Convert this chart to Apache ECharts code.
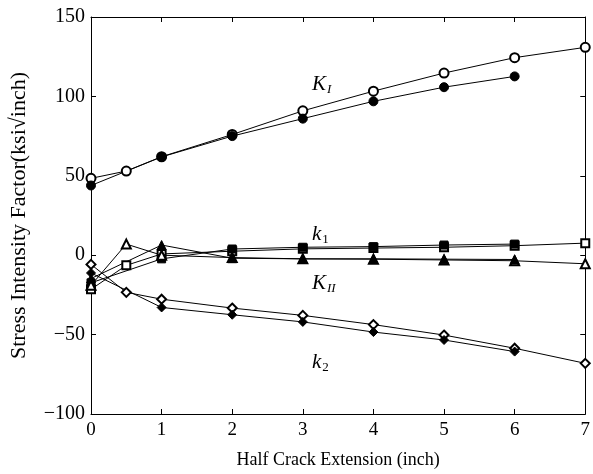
<!DOCTYPE html>
<html>
<head>
<meta charset="utf-8">
<script src="https://cdn.jsdelivr.net/npm/echarts@6/dist/echarts.min.js"></script>
<style>html,body{margin:0;padding:0;background:#fff}#main{width:593px;height:474px}</style>
</head>
<body>
<div id="main"></div>
<script>
var xTicks = [0, 1, 2, 3, 4, 5, 6, 7];
var yTicks = [-100, -50, 0, 50, 100, 150];

// [x, value] pairs
var KI_open = [[0, 48.4], [0.5, 53], [1, 62], [2, 76], [3, 90.9], [4, 103.3], [5, 114.7], [6, 124.4], [7, 130.9]];
var KI_fill = [[0, 43.9], [1, 61.9], [2, 75], [3, 86], [4, 96.9], [5, 105.8], [6, 112.6]];
var k1_open = [[0, -21.5], [0.5, -6.4], [1, 0.8], [2, 2.5], [3, 4], [4, 4.5], [5, 5], [6, 6], [7, 7.6]];
var k1_fill = [[0, -17.4], [1, -2.3], [2, 3.9], [3, 5], [4, 5.4], [5, 6.4], [6, 7]];
var KII_open = [[0, -19], [0.5, 7], [1, 0], [2, -1.5], [3, -2.3], [4, -2.5], [5, -3], [6, -3.5], [7, -5.4]];
var KII_fill = [[0, -14.7], [1, 6.4], [2, -1.9], [3, -2.3], [4, -2.3], [5, -2.5], [6, -2.7]];
var k2_open = [[0, -5.8], [0.5, -23.4], [1, -27.7], [2, -33.3], [3, -37.9], [4, -43.7], [5, -50.3], [6, -58.6], [7, -68.1]];
var k2_fill = [[0, -11.2], [1, -32.9], [2, -37.5], [3, -42], [4, -48.4], [5, -53.4], [6, -60.7]];

var font = 'Liberation Serif';

function mk(name, data, symbol, size) {
    return {
        name: name,
        type: 'line',
        data: data,
        symbol: symbol,
        symbolSize: size || 8,
        showAllSymbol: true,
        color: '#000',
        lineStyle: {color: '#000', width: 1},
        itemStyle: {color: '#000', borderColor: '#000', borderWidth: 1},
        animation: false
    };
}

var axisBase = {
    type: 'value',
    axisLine: {show: true, onZero: false, lineStyle: {color: '#000', width: 1}},
    axisTick: {show: true, inside: true, length: 5, lineStyle: {color: '#000'}},
    splitLine: {show: false}
};

var myChart = echarts.init(document.getElementById('main'));
var option = {
    backgroundColor: '#fff',
    grid: {left: 89, right: 5, top: 17, bottom: 55},
    xAxis: [
        Object.assign({}, axisBase, {
            min: 0, max: 7, interval: 1,
            name: 'Half Crack Extension (inch)',
            nameLocation: 'middle', nameGap: 37,
            nameTextStyle: {fontFamily: font, fontSize: 18, color: '#000'},
            axisLabel: {fontFamily: font, fontSize: 19, color: '#000', margin: 7}
        }),
        Object.assign({}, axisBase, {
            position: 'top', min: 0, max: 7, interval: 1,
            axisLabel: {show: false}
        })
    ],
    yAxis: [
        Object.assign({}, axisBase, {
            min: -100, max: 150, interval: 50,
            name: 'Stress Intensity Factor(ksi\u221Ainch)',
            nameLocation: 'middle', nameGap: 61,
            nameTextStyle: {fontFamily: font, fontSize: 22, color: '#000'},
            axisLabel: {fontFamily: font, fontSize: 20, color: '#000', margin: 6,
                formatter: function (v) { return v < 0 ? '\u2212' + (-v) : String(v); }}
        }),
        Object.assign({}, axisBase, {
            position: 'right', min: -100, max: 150, interval: 50,
            axisLabel: {show: false}
        })
    ],
    graphic: [
        {type: 'text', left: 312, top: 74, style: {
            text: '{a|K}{b|I}', rich: {
                a: {fontFamily: font, fontStyle: 'italic', fontSize: 21, fill: '#000'},
                b: {fontFamily: font, fontStyle: 'italic', fontSize: 13, fill: '#000', padding: [10, 0, 0, 1]}
            }}},
        {type: 'text', left: 312, top: 224, style: {
            text: '{a|k}{b|1}', rich: {
                a: {fontFamily: font, fontStyle: 'italic', fontSize: 21, fill: '#000'},
                b: {fontFamily: font, fontSize: 13, fill: '#000', padding: [10, 0, 0, 1]}
            }}},
        {type: 'text', left: 312, top: 273, style: {
            text: '{a|K}{b|II}', rich: {
                a: {fontFamily: font, fontStyle: 'italic', fontSize: 21, fill: '#000'},
                b: {fontFamily: font, fontStyle: 'italic', fontSize: 13, fill: '#000', padding: [10, 0, 0, 1]}
            }}},
        {type: 'text', left: 312, top: 352, style: {
            text: '{a|k}{b|2}', rich: {
                a: {fontFamily: font, fontStyle: 'italic', fontSize: 21, fill: '#000'},
                b: {fontFamily: font, fontSize: 13, fill: '#000', padding: [10, 0, 0, 1]}
            }}}
    ],
    series: [
        mk('KI open', KI_open, 'emptyCircle', 9),
        mk('KI', KI_fill, 'circle', 9),
        mk('k1 open', k1_open, 'emptyRect', 8),
        mk('k1', k1_fill, 'rect', 8),
        mk('KII open', KII_open, 'emptyTriangle', 9),
        mk('KII', KII_fill, 'triangle', 9),
        mk('k2 open', k2_open, 'emptyDiamond', 9),
        mk('k2', k2_fill, 'diamond', 9)
    ]
};
myChart.setOption(option);
</script>
</body>
</html>
